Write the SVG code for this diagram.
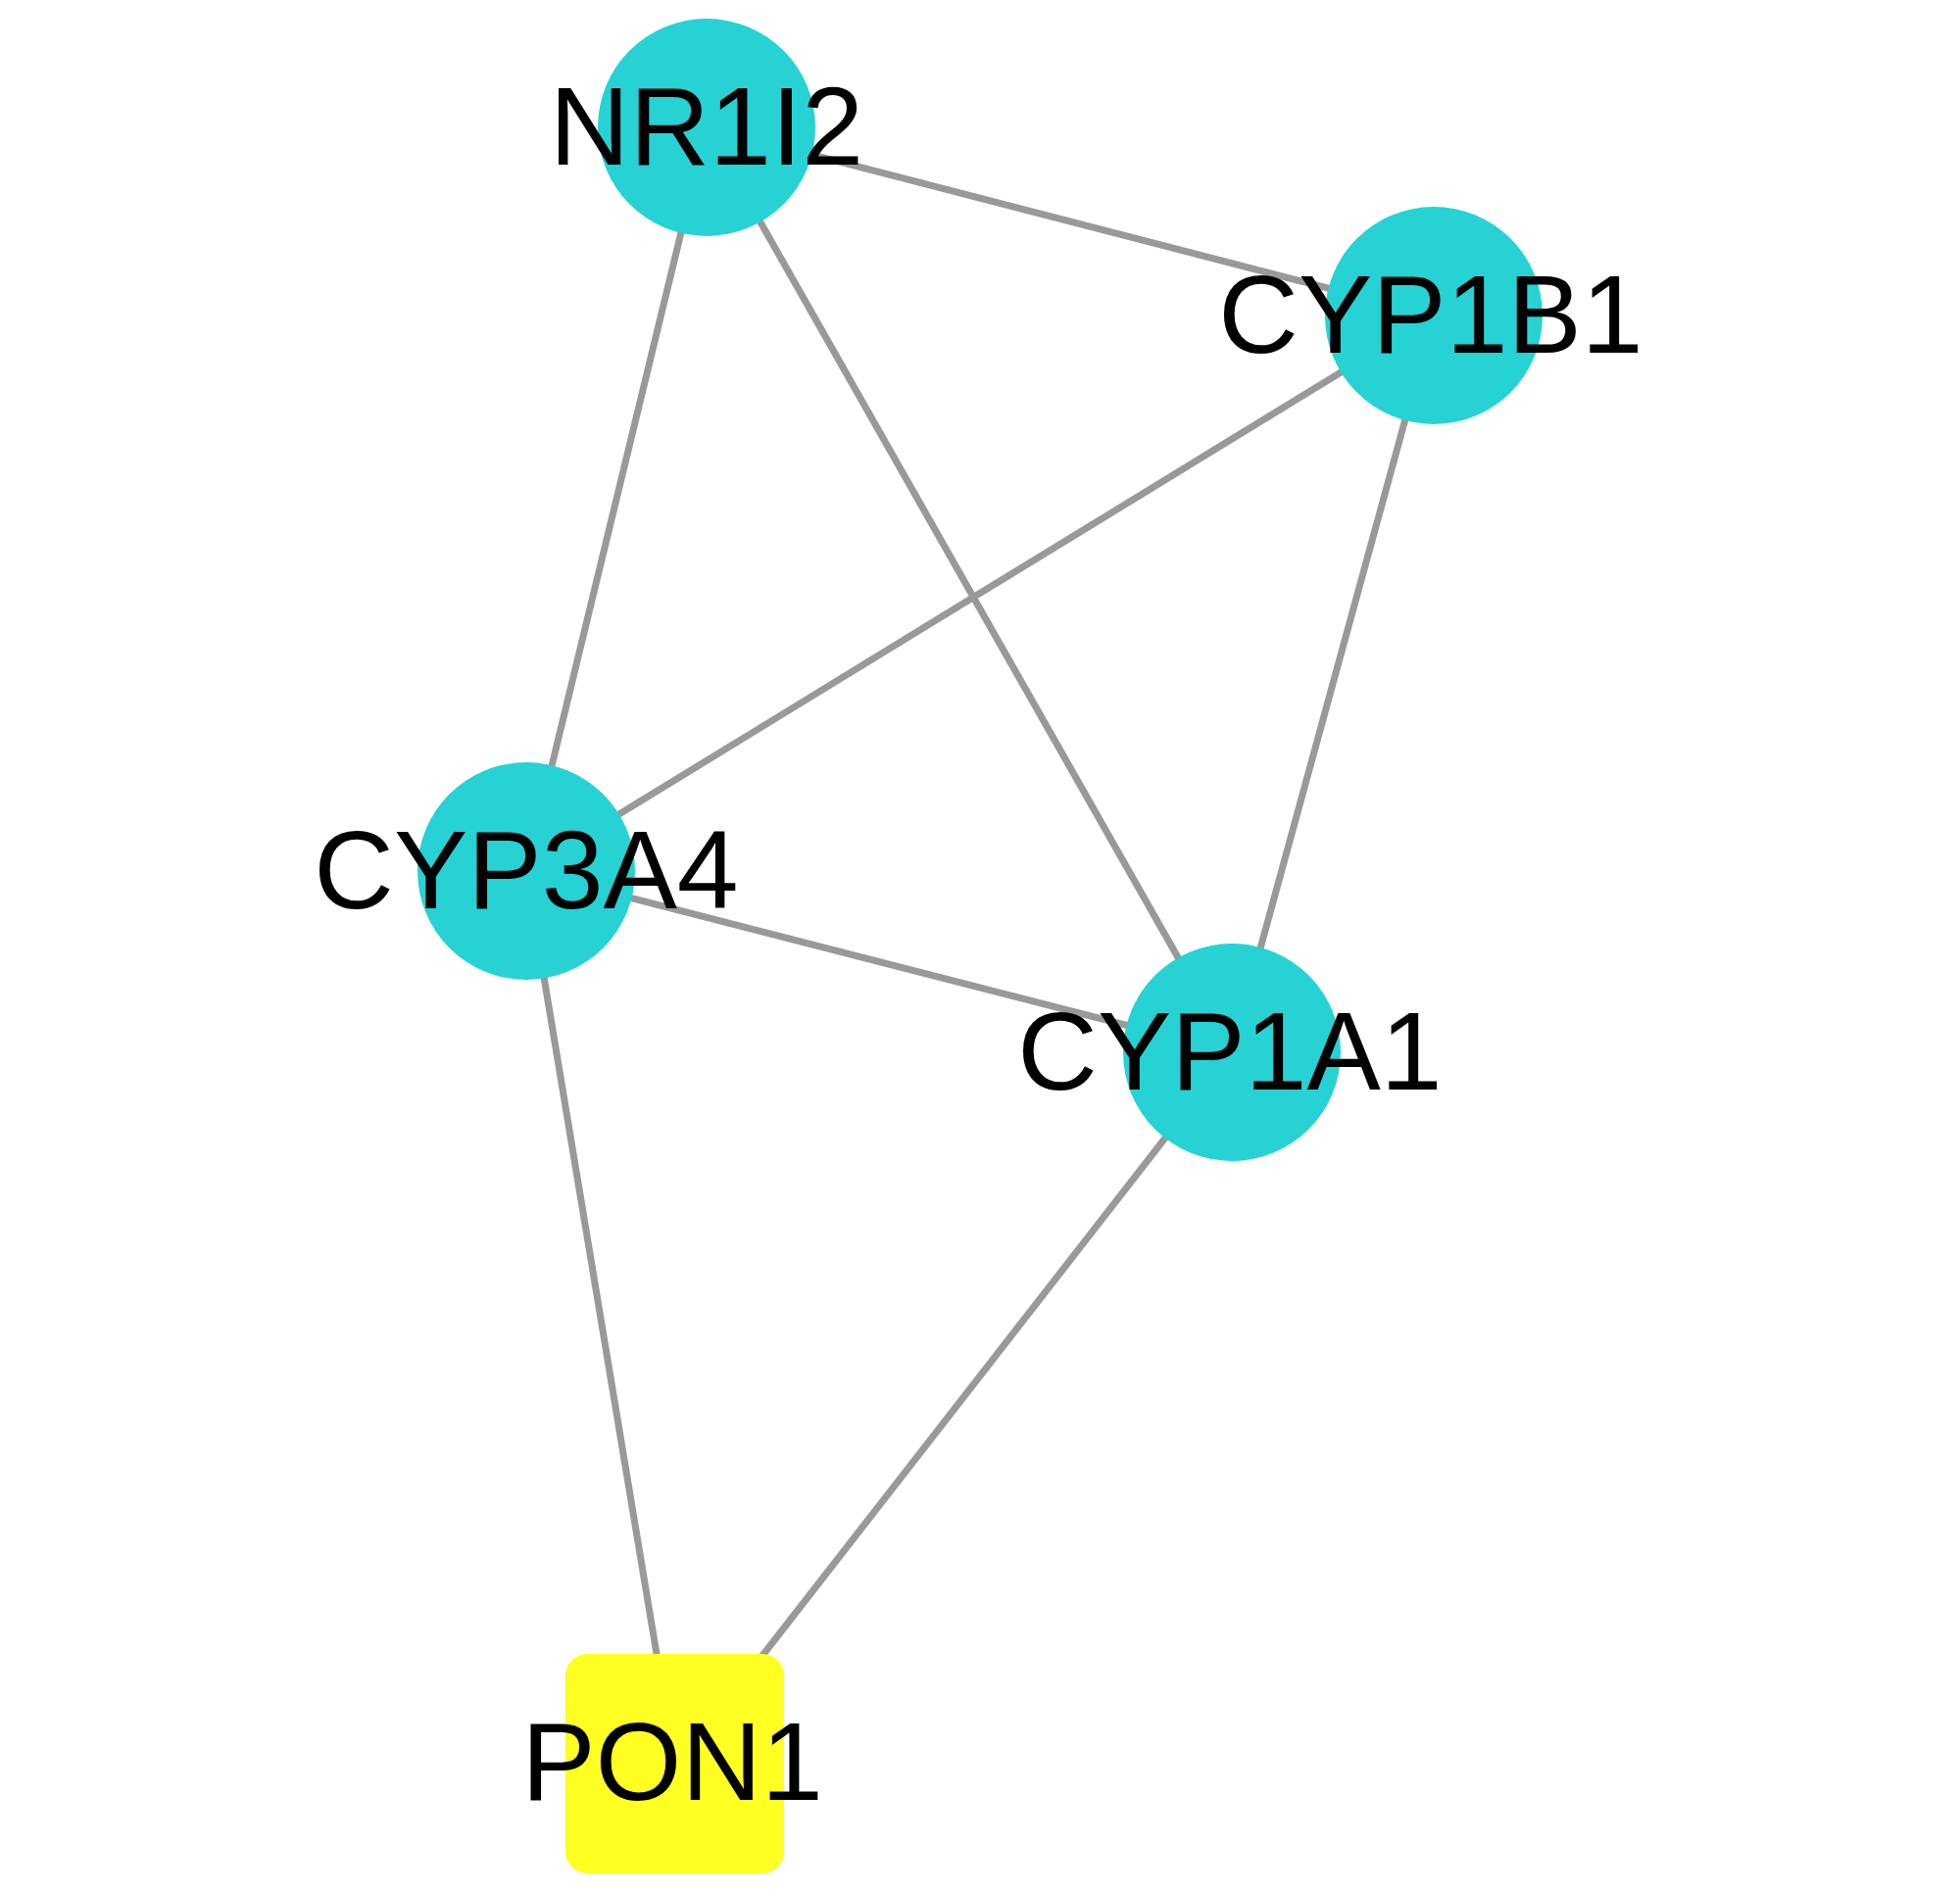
<svg xmlns="http://www.w3.org/2000/svg" width="2000" height="1931" viewBox="0 0 2000 1931">
<style>
.edge{stroke:#999999;stroke-width:7;fill:none}
.circ{fill:#26D2D4}
.rect{fill:#FFFF22}
.lbl{font-family:"Liberation Sans",Arial,sans-serif;font-size:113px;fill:#000000;text-anchor:middle}
</style>
<rect x="0" y="0" width="2000" height="1931" fill="#ffffff"/>
<g id="edges">
<line class="edge" x1="721" y1="130" x2="1463" y2="322"/>
<line class="edge" x1="721" y1="130" x2="537" y2="889"/>
<line class="edge" x1="721" y1="130" x2="1257" y2="1074"/>
<line class="edge" x1="1463" y1="322" x2="537" y2="889"/>
<line class="edge" x1="1463" y1="322" x2="1257" y2="1074"/>
<line class="edge" x1="537" y1="889" x2="1257" y2="1074"/>
<line class="edge" x1="537" y1="889" x2="672" y2="1700"/>
<line class="edge" x1="1257" y1="1074" x2="770" y2="1700"/>
</g>
<g id="NR1I2"><circle class="circ" cx="721" cy="130" r="111"/><text class="lbl" x="721" y="168">NR1I2</text></g>
<g id="CYP1B1"><circle class="circ" cx="1463" cy="322" r="111"/><text class="lbl" x="1460" y="360">CYP1B1</text></g>
<g id="CYP3A4"><circle class="circ" cx="537" cy="889" r="111"/><text class="lbl" x="537" y="927">CYP3A4</text></g>
<g id="CYP1A1"><circle class="circ" cx="1257" cy="1074" r="111"/><text class="lbl" x="1255" y="1112">CYP1A1</text></g>
<g id="PON1"><rect class="rect" x="577" y="1688" width="223" height="224" rx="22"/><text class="lbl" x="686" y="1837">PON1</text></g>
</svg>
